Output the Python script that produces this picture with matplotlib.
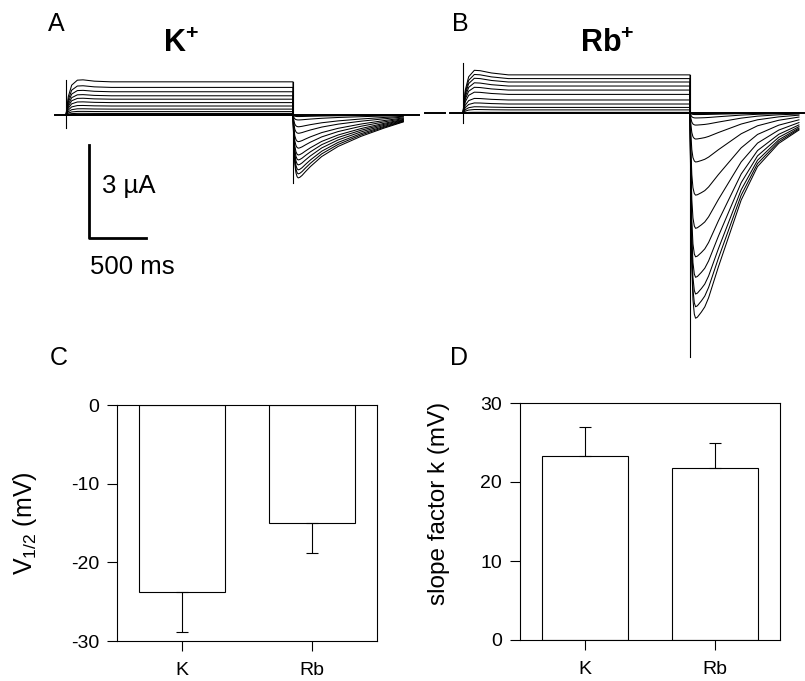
import matplotlib
matplotlib.use("Agg")
import matplotlib.pyplot as plt
import numpy as np

plt.rcParams['font.family'] = ['Liberation Sans', 'DejaVu Sans']
plt.rcParams['mathtext.fontset'] = 'custom'
plt.rcParams['mathtext.rm'] = 'Liberation Sans'
plt.rcParams['mathtext.bf'] = 'Liberation Sans:bold'
plt.rcParams['mathtext.it'] = 'Liberation Sans:italic'
plt.rcParams['axes.unicode_minus'] = False

# ---- current traces ----
# step: time (ms) after step onset and normalised shape of the current
step_t = [0, 20, 50, 100, 150, 250, 400, 2000]
step_shape_K = [0.0, 0.55, 0.9, 1.05, 1.06, 1.02, 1.0, 1.0]
step_shape_Rb = [0.0, 0.6, 0.95, 1.12, 1.11, 1.05, 1.0, 1.0]
# tail: time (ms) after step end and normalised shape of the tail current
tail_t_K = [0, 8, 16, 26, 36, 46, 60, 80, 110, 153, 253, 397, 598, 799, 972]
tail_shape_K = [0.0, 0.5, 0.78, 0.92, 0.98, 1.0, 0.99, 0.96, 0.9, 0.82, 0.66, 0.50, 0.34, 0.21, 0.11]
tail_t_Rb = [0, 8, 16, 26, 38, 49, 65, 100, 130, 164, 250, 351, 451, 595, 782, 960]
tail_shape_Rb = [0.0, 0.45, 0.75, 0.91, 0.98, 1.0, 0.995, 0.97, 0.945, 0.9, 0.75, 0.586, 0.424, 0.261, 0.148, 0.083]
# steady-state step currents and tail peak currents (uA), one per sweep
step_K = [0.0, 0.0, 0.05, 0.11, 0.19, 0.29, 0.40, 0.51, 0.62, 0.75, 0.89, 1.07]
tail_K = [-0.05, -0.16, -0.38, -0.59, -0.86, -1.07, -1.29, -1.45, -1.61, -1.77, -1.90, -2.03]
step_Rb = [0.0, 0.02, 0.10, 0.18, 0.29, 0.42, 0.60, 0.74, 0.87, 1.0, 1.11, 1.23]
tail_Rb = [-0.05, -0.16, -0.39, -0.84, -1.58, -2.65, -3.72, -4.64, -5.30, -5.84, -6.25, -6.62]
step_dur = 2000
# clipped capacitive transients (uA): onset and offset
onset_K = [-0.42, 1.13]
offset_K = [-2.2, 1.07]
onset_Rb = [-0.32, 1.61]
offset_Rb = [-7.87, 1.23]

# ---- bar data ----
groups = ['K', 'Rb']
v_half = [-23.8, -15.0]
v_half_err = [5.0, 3.8]
slope_k = [23.3, 21.8]
slope_k_err = [3.7, 3.1]

W, H = 805, 681
fig = plt.figure(figsize=(W / 100, H / 100), dpi=100)


def box(x0, y0, x1, y1):
    # pixel box (top-left origin) -> figure fraction
    return [x0 / W, (H - y1) / H, (x1 - x0) / W, (y1 - y0) / H]


ms_px = 2000 / 227
ua_px = 3 / 93


def trace_axes(x0, y0, x1, y1, t0_px, base_px):
    ax = fig.add_axes(box(x0, y0, x1, y1))
    ax.set_xlim((x0 - t0_px) * ms_px, (x1 - t0_px) * ms_px)
    ax.set_ylim((base_px - y1) * ua_px, (base_px - y0) * ua_px)
    ax.axis('off')
    return ax


def draw_traces(ax, steps, tails, s_shape, tt, t_shape):
    for lvl, amp in zip(steps, tails):
        t = np.concatenate([step_t, np.array(tt) + step_dur])
        y = np.concatenate([lvl * np.array(s_shape), amp * np.array(t_shape)])
        ax.plot(t, y, color='black', lw=0.75)


# panel A
axA = trace_axes(30, 55, 420, 300, 66, 115)
axA.plot([-95, 3130], [0, 0], color='black', lw=1.4)
draw_traces(axA, step_K, tail_K, step_shape_K, tail_t_K, tail_shape_K)
axA.plot([0, 0], onset_K, color='black', lw=0.8)
axA.plot([step_dur, step_dur], offset_K, color='black', lw=0.8)
# scale bar 3 uA / 500 ms
axA.plot([203, 203, 703], [-0.97, -3.97, -3.97], color='black', lw=2)
axA.text(320, -2.3, '3 µA', fontsize=18.5, va='center', ha='left')
axA.text(215, -4.9, '500 ms', fontsize=18.5, va='center', ha='left')

# panel B
axB = trace_axes(420, 55, 805, 365, 463, 113)
axB.plot([-335, -160], [0, 0], color='black', lw=1.4)
axB.plot([-115, 3000], [0, 0], color='black', lw=1.4)
draw_traces(axB, step_Rb, tail_Rb, step_shape_Rb, tail_t_Rb, tail_shape_Rb)
axB.plot([0, 0], onset_Rb, color='black', lw=0.8)
axB.plot([step_dur, step_dur], offset_Rb, color='black', lw=0.8)

# panel letters and titles
for lbl, x, y in [('A', 48, 12), ('B', 452, 12), ('C', 50, 346), ('D', 450, 346)]:
    fig.text(x / W, 1 - y / H, lbl, fontsize=18, va='top', ha='left')
fig.text(163 / W, 1 - 52 / H, r'$\mathbf{K^{+}}$', fontsize=22, va='baseline')
fig.text(580 / W, 1 - 52 / H, r'$\mathbf{Rb^{+}}$', fontsize=22, va='baseline')


def bar_axes(pos, vals, errs, lower):
    ax = fig.add_axes(pos)
    x = np.arange(len(groups))
    ax.bar(x, vals, width=0.66, color='white', edgecolor='black', lw=0.8)
    yerr = [errs, [0] * len(errs)] if lower else [[0] * len(errs), errs]
    ax.errorbar(x, vals, yerr=yerr, fmt='none', ecolor='black',
                elinewidth=0.8, capsize=4, capthick=0.8)
    ax.set_xlim(-0.5, 1.5)
    ax.set_xticks(x)
    ax.set_xticklabels(groups)
    ax.tick_params(direction='out', length=7, width=0.8, labelsize=14, pad=6)
    ax.tick_params(axis='x', pad=8)
    for s in ax.spines.values():
        s.set_linewidth(0.8)
    return ax


axC = bar_axes(box(117, 405, 377, 641), v_half, v_half_err, True)
axC.set_ylim(-30, 0)
axC.set_yticks([0, -10, -20, -30])
axC.set_ylabel(r'V$_{\mathrm{1/2}}$ (mV)', fontsize=18)
axC.yaxis.set_label_coords(-0.3, 0.5)

axD = bar_axes(box(520, 403, 780, 640), slope_k, slope_k_err, False)
axD.set_ylim(0, 30)
axD.set_yticks([0, 10, 20, 30])
axD.set_ylabel('slope factor k (mV)', fontsize=17.5)
axD.yaxis.set_label_coords(-0.27, 0.575)

fig.savefig('out.png', dpi=100)
